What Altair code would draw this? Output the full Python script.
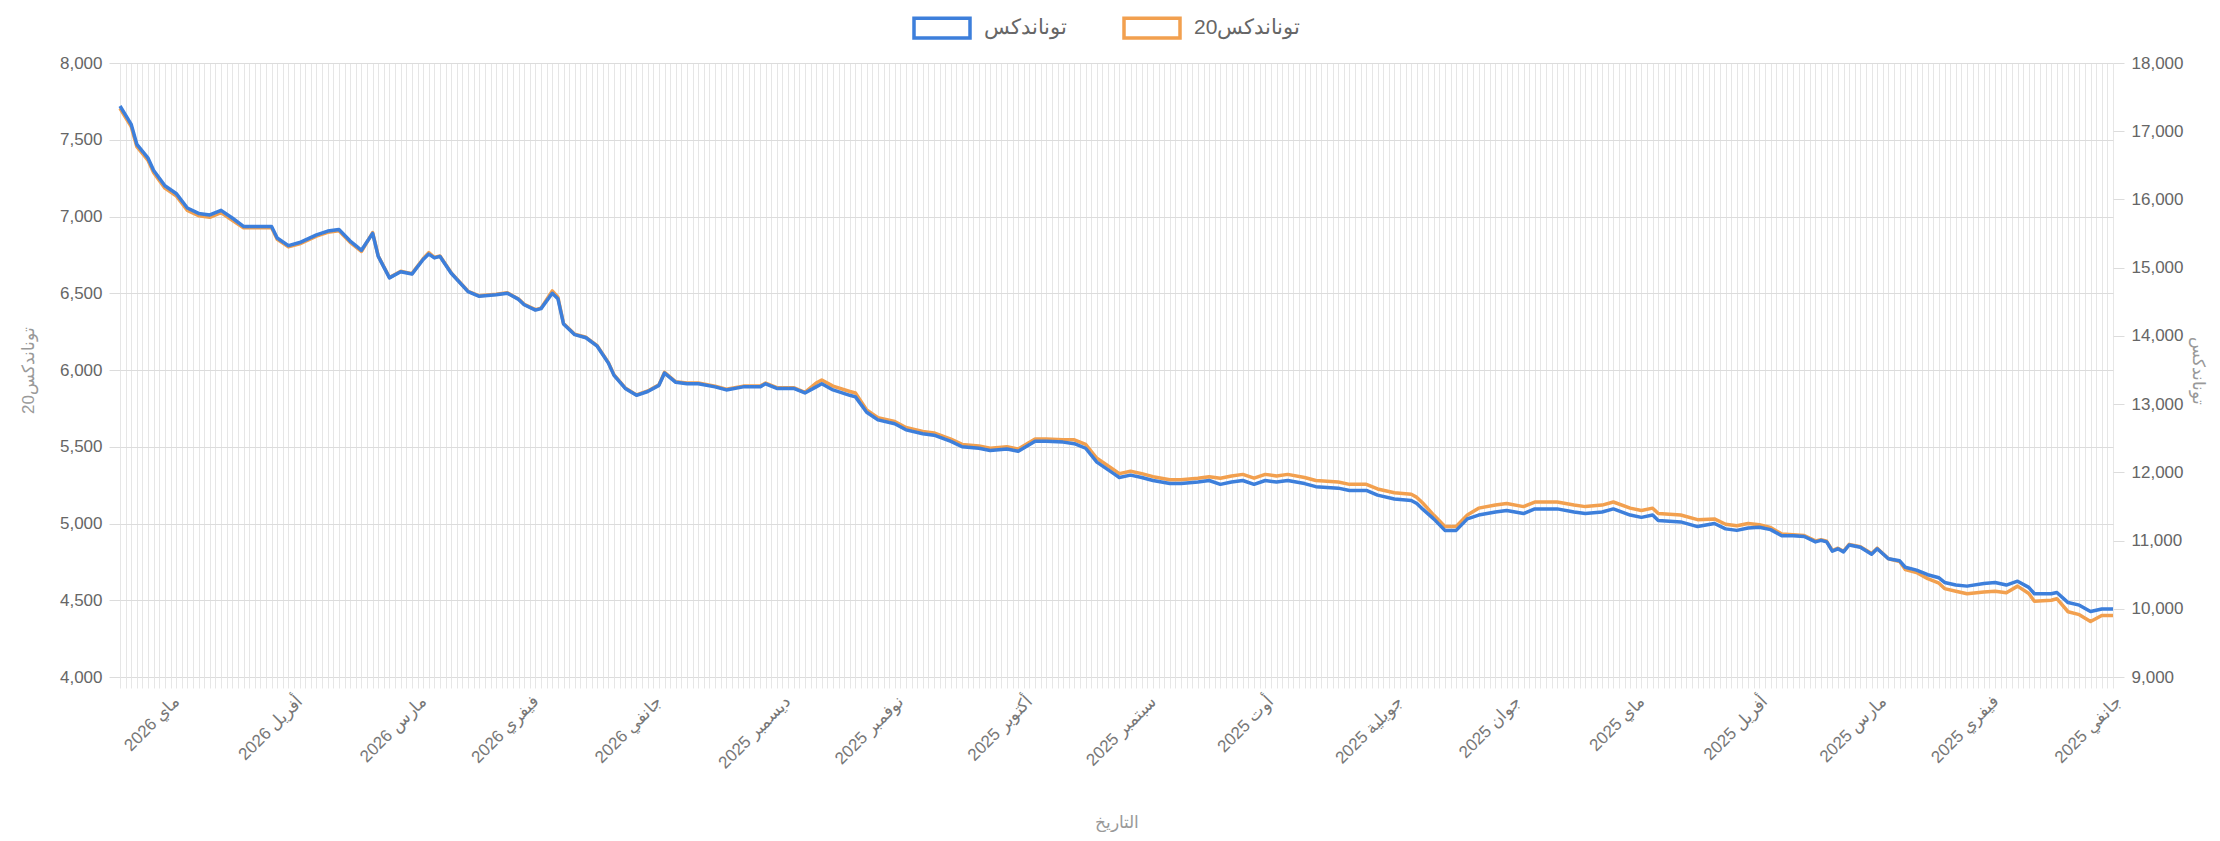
import altair as alt
import pandas as pd

FONT = "Liberation Sans, Arial, sans-serif"

first_day = "2025-01-02"
last_day = "2026-05-14"

# trading sessions counted back from the latest session (0 = latest)
session = [
    0, 1, 2, 3, 5, 6, 8, 10, 12, 14,
    16, 18, 20, 22, 27, 28, 30, 32, 35, 37,
    39, 41, 42, 43, 45, 46, 48, 50, 52, 54,
    55, 56, 57, 59, 62, 64, 67, 69, 71, 72,
    74, 75, 77, 78, 79, 81, 83, 85, 87, 88,
    90, 92, 94, 96, 97, 99, 101, 103, 106, 108,
    111, 114, 115, 117, 120, 122, 124, 125, 127, 130,
    131, 133, 135, 138, 140, 143, 145, 148, 150, 153,
    155, 158, 160, 163, 165, 168, 170, 172, 174, 177,
    178, 180, 182, 184, 187, 189, 192, 194, 196, 198,
    200, 202, 204, 206, 208, 211, 213, 217, 219, 222,
    224, 227, 230, 231, 232, 234, 236, 238, 240, 242,
    245, 247, 250, 252, 256, 259, 261, 264, 266, 269,
    271, 273, 274, 278, 281, 284, 286, 288, 290, 292,
    294, 296, 298, 300, 302, 303, 304, 305, 306, 307,
    308, 310, 312, 313, 315, 317, 318, 320, 322, 324,
    325, 327, 329, 332, 334, 336, 338, 340, 341, 344,
    345, 347, 349, 351, 353, 355,
]

# TUNINDEX (right axis)
tunindex = [
    17370, 17235, 17100, 16808, 16605, 16425, 16200, 16088, 15874, 15795,
    15773, 15840, 15728, 15604, 15604, 15435, 15323, 15368, 15480, 15536,
    15559, 15390, 15323, 15255, 15503, 15165, 14850, 14940, 14906, 15120,
    15199, 15143, 15165, 14918, 14648, 14580, 14603, 14625, 14535, 14456,
    14378, 14400, 14625, 14546, 14175, 14018, 13973, 13849, 13601, 13421,
    13230, 13129, 13185, 13275, 13455, 13320, 13298, 13298, 13253, 13208,
    13253, 13253, 13298, 13230, 13230, 13163, 13253, 13298, 13208, 13129,
    13106, 12881, 12769, 12713, 12623, 12566, 12544, 12454, 12375, 12353,
    12319, 12341, 12308, 12454, 12454, 12443, 12420, 12353, 12150, 11981,
    11925, 11959, 11925, 11880, 11835, 11835, 11858, 11880, 11824, 11858,
    11880, 11824, 11880, 11858, 11880, 11835, 11790, 11768, 11734, 11734,
    11666, 11610, 11588, 11543, 11464, 11318, 11149, 11149, 11318, 11374,
    11419, 11441, 11396, 11464, 11464, 11419, 11396, 11419, 11464, 11374,
    11340, 11374, 11295, 11273, 11205, 11250, 11171, 11149, 11183, 11194,
    11160, 11070, 11070, 11059, 10980, 11003, 10980, 10845, 10879, 10834,
    10935, 10901, 10800, 10879, 10733, 10703, 10609, 10566, 10499, 10454,
    10386, 10348, 10332, 10370, 10386, 10348, 10404, 10314, 10220, 10220,
    10238, 10091, 10053, 9959, 9997, 9997,
]

# TUNINDEX20 (left axis)
tunindex20 = [
    7705, 7645, 7585, 7455, 7365, 7285, 7185, 7135, 7040, 7005,
    6995, 7025, 6975, 6927, 6927, 6852, 6802, 6822, 6872, 6897,
    6907, 6832, 6802, 6772, 6895, 6743, 6603, 6643, 6628, 6725,
    6765, 6733, 6743, 6633, 6513, 6483, 6493, 6503, 6463, 6428,
    6393, 6403, 6515, 6475, 6303, 6233, 6213, 6158, 6048, 5968,
    5883, 5838, 5863, 5903, 5985, 5923, 5915, 5915, 5895, 5875,
    5895, 5895, 5915, 5885, 5885, 5855, 5915, 5935, 5895, 5860,
    5850, 5740, 5690, 5665, 5625, 5600, 5590, 5550, 5515, 5505,
    5490, 5500, 5485, 5550, 5550, 5545, 5545, 5515, 5425, 5350,
    5325, 5340, 5325, 5305, 5285, 5285, 5295, 5305, 5295, 5310,
    5320, 5295, 5320, 5310, 5320, 5300, 5280, 5270, 5255, 5255,
    5225, 5200, 5190, 5170, 5135, 5055, 4980, 4980, 5055, 5100,
    5120, 5130, 5110, 5140, 5140, 5120, 5110, 5120, 5140, 5100,
    5085, 5100, 5065, 5055, 5025, 5030, 4995, 4985, 5000, 4992,
    4974, 4932, 4927, 4922, 4887, 4894, 4884, 4824, 4839, 4819,
    4864, 4849, 4804, 4839, 4770, 4752, 4700, 4681, 4641, 4611,
    4576, 4559, 4542, 4554, 4559, 4549, 4592, 4544, 4493, 4500,
    4510, 4425, 4406, 4361, 4401, 4401,
]

series_names = ["توناندكس", "توناندكس20"]
series_colors = ["#3d7fdb", "#f2a04f"]
months_ar = ["جانفي", "فيفري", "مارس", "أفريل", "ماي", "جوان",
             "جويلية", "أوت", "سبتمبر", "أكتوبر", "نوفمبر", "ديسمبر"]
left_ticks = list(range(4000, 8001, 500))
right_ticks = list(range(9000, 18001, 1000))

assert len(session) == len(tunindex) == len(tunindex20)

# trading calendar, newest first
dates = pd.bdate_range(first_day, last_day)[::-1]
n = len(dates)
label_pos, label_txt = [], []
for i, d in enumerate(dates):
    if i == n - 1 or dates[i + 1].month != d.month:
        label_pos.append(i)
        label_txt.append(f"{months_ar[d.month - 1]} {d.year}")

pos_js = "[" + ",".join(str(p) for p in label_pos) + "]"
txt_js = "[" + ",".join("'" + t + "'" for t in label_txt) + "]"
label_expr = f"indexof({pos_js}, datum.value) >= 0 ? {txt_js}[indexof({pos_js}, datum.value)] : ''"

df_blue = pd.DataFrame({"session": session, "value": tunindex, "series": series_names[0]})
df_orange = pd.DataFrame({"session": session, "value": tunindex20, "series": series_names[1]})

GRID = "#e6e6e6"
HGRID = "#dcdcdc"

x_enc = alt.X(
    "session:Q",
    scale=alt.Scale(domain=[0, n - 1], nice=False, zero=False),
    axis=alt.Axis(
        values=list(range(n)), grid=True, gridColor=GRID, gridWidth=1,
        domain=False, ticks=True, tickSize=11, tickColor=GRID,
        labelExpr=label_expr, labelAngle=315, labelAlign="right", labelBaseline="top",
        labelPadding=5, labelFontSize=17, labelColor="#777", labelFont=FONT,
        labelOverlap=False, labelFlush=False,
        title="التاريخ", titleY=145, titleBaseline="middle", titleFontSize=17,
        titleColor="#999", titleFontWeight="normal", titleFont=FONT,
    ),
)

color_enc = alt.Color(
    "series:N",
    scale=alt.Scale(domain=series_names, range=series_colors),
    legend=alt.Legend(
        orient="none", legendX=792, legendY=-65, direction="horizontal", title=None,
        symbolType="M-1,-0.35L1,-0.35L1,0.35L-1,0.35Z", symbolSize=3136,
        symbolStrokeWidth=3.5, symbolFillColor="white",
        labelFontSize=21, labelColor="#666", labelFont=FONT, labelOffset=12,
        columnPadding=50, padding=0,
    ),
)

orange = alt.Chart(df_orange).mark_line(strokeWidth=3.5, strokeJoin="round").encode(
    x=x_enc,
    y=alt.Y(
        "value:Q",
        scale=alt.Scale(domain=[4000, 8000], nice=False, zero=False),
        axis=alt.Axis(
            orient="left", values=left_ticks, format=",.0f", grid=True, gridColor=HGRID,
            tickSize=11, tickColor=HGRID, domain=False,
            labelFontSize=17, labelColor="#666", labelFont=FONT, labelPadding=7, labelFlush=False,
            title="توناندكس20", titleX=-92, titleY=307, titleAngle=270,
            titleAlign="center", titleBaseline="middle", titleFontSize=17,
            titleColor="#999", titleFontWeight="normal", titleFont=FONT,
        ),
    ),
    color=color_enc,
)

blue = alt.Chart(df_blue).mark_line(strokeWidth=3.5, strokeJoin="round").encode(
    x=x_enc,
    y=alt.Y(
        "value:Q",
        scale=alt.Scale(domain=[9000, 18000], nice=False, zero=False),
        axis=alt.Axis(
            orient="right", values=right_ticks, format=",.0f", grid=False,
            tickSize=11, tickColor=HGRID, domain=False,
            labelFontSize=17, labelColor="#666", labelFont=FONT, labelPadding=7, labelFlush=False,
            title="توناندكس", titleX=84, titleY=307, titleAngle=90,
            titleAlign="center", titleBaseline="middle", titleFontSize=17,
            titleColor="#999", titleFontWeight="normal", titleFont=FONT,
        ),
    ),
    color=color_enc,
)

chart = (
    alt.layer(orange, blue)
    .resolve_scale(y="independent")
    .properties(
        width=1993, height=614, autosize="none",
        padding={"left": 112, "top": 55, "right": 99, "bottom": 155},
        background="white",
    )
    .configure_view(stroke=None)
)

chart.save("out.html", embed_options={"renderer": "svg", "actions": False})
